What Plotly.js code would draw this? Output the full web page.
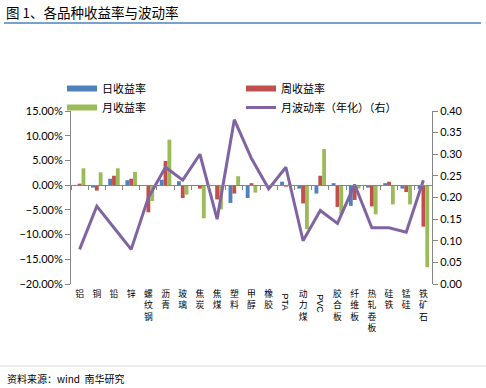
<!DOCTYPE html>
<html>
<head>
<meta charset="utf-8">
<script src="https://cdn.plot.ly/plotly-3.0.1.min.js"></script>
<style>html,body{margin:0;padding:0;background:#fff;}#chart{width:486px;height:388px;}</style>
</head>
<body>
<div id="chart"></div>
<script>
const categories = ['铝','铜','铅','锌','螺纹钢','沥青','玻璃','焦炭','焦煤','塑料','甲醇','橡胶','PTA','动力煤','PVC','胶合板','纤维板','热轧卷板','硅铁','锰硅','铁矿石'];
const dailyReturn   = [0.0005,-0.005,0.013,0.010,0.000,0.011,0.008,0.000,0.000,-0.036,-0.026,0.000,0.007,-0.007,-0.017,0.004,-0.042,-0.005,0.004,-0.007,-0.008];
const weeklyReturn  = [0.003,-0.011,0.019,0.013,-0.055,0.049,-0.026,-0.007,-0.029,-0.017,0.004,-0.001,-0.003,-0.037,0.019,-0.044,-0.030,-0.043,0.007,-0.014,-0.084];
const monthlyReturn = [0.034,0.026,0.034,0.027,-0.032,0.092,-0.019,-0.067,-0.049,0.018,-0.015,0.003,0.002,-0.089,0.073,-0.059,-0.007,-0.059,-0.039,-0.039,-0.166];
const monthlyVol    = [0.08,0.18,0.13,0.08,0.20,0.27,0.24,0.30,0.15,0.38,0.29,0.22,0.27,0.10,0.17,0.14,0.23,0.13,0.13,0.12,0.24];
const seriesNames = ['日收益率','周收益率','月收益率','月波动率（年化）（右）'];
const colors = ['#4F81BD','#C0504D','#9BBB59','#8064A2'];
const latinLabels = ['PTA','PVC'];

const FONT = 'Lato, "Noto Sans CJK SC", sans-serif';
const CJK = '"Noto Sans CJK SC", sans-serif';
const axisColor = '#868686';

const barSeries = [dailyReturn, weeklyReturn, monthlyReturn];
const traces = [];
barSeries.forEach((vals, i) => {
  traces.push({type:'bar', x:categories, y:vals, name:seriesNames[i], marker:{color:colors[i]},
    xaxis:'x', yaxis:'y', showlegend:false, legendgroup:'g'+i});
  // legend proxy (wide flat swatch)
  traces.push({type:'scatter', mode:'lines', x:[null], y:[null], name:seriesNames[i],
    line:{color:colors[i], width:6}, xaxis:'x', yaxis:'y', legendgroup:'g'+i, showlegend:true});
});
traces.push({type:'scatter', mode:'lines', x:categories, y:monthlyVol, name:seriesNames[3],
  line:{color:colors[3], width:3}, xaxis:'x', yaxis:'y2'});
// invisible trace for the zero-crossing tick axis
traces.push({type:'scatter', mode:'lines', x:categories, y:categories.map(()=>null), xaxis:'x2', yaxis:'y',
  showlegend:false, hoverinfo:'skip'});

const tickText = categories.map(c => latinLabels.includes(c) ? '' : c.split('').join('<br>'));

const W = 486, H = 388, ML = 71, MR = 54, MT = 111, MB = 104;
const PW = W-ML-MR, PH = H-MT-MB;
const px = x => (x-ML)/PW;
const py = y => (H-MB-y)/PH;

const annotations = latinLabels.map(c => ({x:c, xref:'x', y:py(292), yref:'paper', yanchor:'top', xanchor:'center',
  text:c, textangle:90, showarrow:false, font:{family:'"Liberation Sans", Arial, sans-serif', size:9, color:'#000'}}));
annotations.push({x:px(5), xref:'paper', y:py(378), yref:'paper', xanchor:'left', yanchor:'middle', showarrow:false,
  text:'资料来源：wind  南华研究', font:{family:CJK, size:10, color:'#000'}});

const layout = {
  width:W, height:H,
  margin:{l:ML, r:MR, t:MT, b:MB, pad:0},
  paper_bgcolor:'#fff', plot_bgcolor:'#fff',
  font:{family:FONT, size:11, color:'#000'},
  title:{text:'图 1、各品种收益率与波动率', x:6/W, xanchor:'left', xref:'container', y:1-13/H, yanchor:'middle', yref:'container',
    font:{family:CJK, size:13.5, color:'#000'}},
  barmode:'group', bargap:0.33, bargroupgap:0,
  showlegend:true,
  legend:{orientation:'h', x:px(62), xanchor:'left', y:py(74), yanchor:'top', entrywidth:134, entrywidthmode:'pixels',
    font:{family:CJK, size:11, color:'#000'}, bgcolor:'rgba(0,0,0,0)', itemwidth:30, tracegroupgap:0, traceorder:'normal'},
  xaxis:{type:'category', categoryorder:'array', categoryarray:categories, range:[-0.5, categories.length-0.5],
    tickmode:'array', tickvals:categories, ticktext:tickText, tickangle:0, ticks:'', showline:false, showgrid:false, zeroline:false,
    ticklabelstandoff:3, tickfont:{family:CJK, size:8.8, color:'#000'}, fixedrange:true},
  xaxis2:{type:'category', categoryorder:'array', categoryarray:categories, range:[-0.5, categories.length-0.5],
    overlaying:'x', anchor:'free', position:0.2/0.35, showticklabels:false, ticks:'outside', tickson:'boundaries',
    ticklen:4, tickcolor:axisColor, showline:true, linecolor:axisColor, linewidth:1, showgrid:false, zeroline:false},
  yaxis:{range:[-0.2,0.15], dtick:0.05, tick0:0, tickformat:'.2%', ticks:'outside', ticklen:5, tickcolor:axisColor,
    showline:true, linecolor:axisColor, showgrid:false, zeroline:false, tickfont:{family:FONT, size:11, color:'#000'}},
  yaxis2:{range:[0,0.4], dtick:0.05, tick0:0, tickformat:'.2f', overlaying:'y', side:'right', ticks:'outside', ticklen:5,
    tickcolor:axisColor, showline:true, linecolor:axisColor, showgrid:false, zeroline:false, tickfont:{family:FONT, size:11, color:'#000'}},
  shapes:[
    {type:'line', xref:'paper', yref:'paper', x0:px(4), x1:px(481), y0:py(23), y1:py(23), line:{color:'#4F81BD', width:1.5}},
    {type:'line', xref:'paper', yref:'paper', x0:px(0), x1:px(486), y0:py(366), y1:py(366), line:{color:'#d9d9d9', width:1}}
  ],
  annotations:annotations
};

Plotly.newPlot('chart', traces, layout, {staticPlot:true, displayModeBar:false});
</script>
</body>
</html>
